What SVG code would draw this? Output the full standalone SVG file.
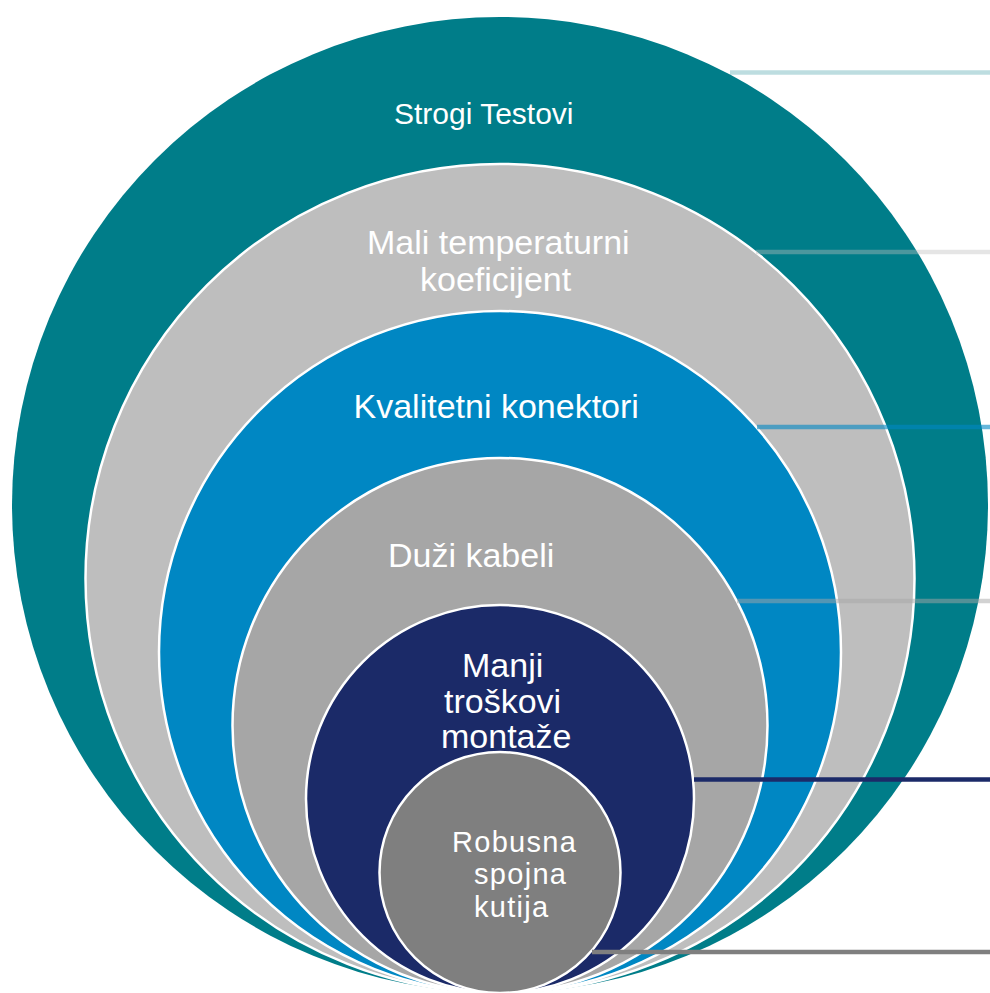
<svg xmlns="http://www.w3.org/2000/svg" width="990" height="993" viewBox="0 0 990 993">
<style>
.c{stroke:#FFFFFF;stroke-width:2.5}
.t{font-family:"Liberation Sans",Arial,sans-serif;fill:#FFFFFF;font-size:34px}
.ln{stroke-width:4.5;fill:none}
</style>
<rect width="990" height="993" fill="#FFFFFF"/>
<g id="node-strogi-testovi">
<circle cx="500" cy="505" r="488" fill="#007D89"/>
<text class="t" x="394" y="123.5" style="font-size:30px">Strogi Testovi</text>
</g>
<g id="node-mali-temperaturni">
<circle class="c" cx="500" cy="578.5" r="414.5" fill="#BEBEBE"/>
<text class="t" x="367" y="254">Mali temperaturni</text>
<text class="t" x="420" y="291">koeficijent</text>
</g>
<g id="node-kvalitetni-konektori">
<circle class="c" cx="500" cy="652" r="341" fill="#0087C3"/>
<text class="t" x="353.5" y="418">Kvalitetni konektori</text>
</g>
<g id="node-duzi-kabeli">
<circle class="c" cx="500" cy="725.5" r="267.5" fill="#A6A6A6"/>
<text class="t" x="388" y="567">Duži kabeli</text>
</g>
<g id="node-manji-troskovi">
<circle class="c" cx="500" cy="799" r="194" fill="#1B2A68"/>
<text class="t" x="462" y="677">Manji</text>
<text class="t" x="444" y="713">troškovi</text>
<text class="t" x="441" y="748">montaže</text>
</g>
<g id="node-robusna-spojna-kutija">
<circle class="c" cx="500" cy="872.5" r="120.5" fill="#7F7F7F"/>
<text class="t" x="452" y="852" style="font-size:29px;letter-spacing:1.3px">Robusna</text>
<text class="t" x="474" y="884" style="font-size:29px;letter-spacing:1.3px">spojna</text>
<text class="t" x="474" y="917" style="font-size:29px;letter-spacing:1.3px">kutija</text>
</g>
<g id="connectors">
<line class="ln" x1="730" y1="72.5" x2="990" y2="72.5" stroke="#007D89" stroke-opacity="0.26"/>
<line class="ln" x1="756" y1="252" x2="990" y2="252" stroke="#BEBEBE" stroke-opacity="0.4"/>
<line class="ln" x1="757" y1="427" x2="990" y2="427" stroke="#0087C3" stroke-opacity="0.6"/>
<line class="ln" x1="737" y1="601" x2="990" y2="601" stroke="#A6A6A6" stroke-opacity="0.5"/>
<line class="ln" x1="694" y1="779.5" x2="990" y2="779.5" stroke="#1B2A68"/>
<line class="ln" x1="592" y1="952" x2="990" y2="952" stroke="#7F7F7F"/>
</g>
</svg>
